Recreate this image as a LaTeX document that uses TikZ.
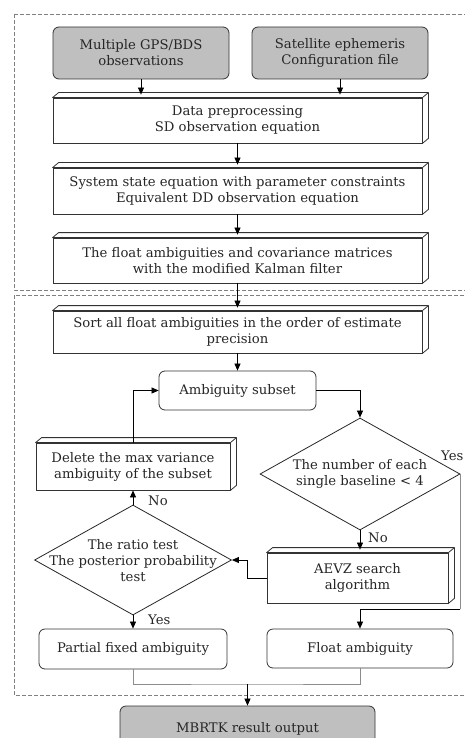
\documentclass[tikz,border=0pt]{standalone}
\usepackage{fontspec}
\setmainfont{DejaVu Serif}
\usetikzlibrary{arrows.meta,shapes.geometric,calc}
\newcommand\depthfaces[1]{%
  \draw[draw=black!80, line width=0.8pt, fill=white, line join=round]
    (#1.north west) -- ++(6,-5) -- ($(#1.north east)+(6,-5)$) -- ($(#1.south east)+(6,-5)$) -- (#1.south east) -- (#1.north east) -- cycle;
  \draw[draw=black!80, line width=0.8pt] (#1.north east) -- ++(6,-5);}
\begin{document}
\begin{tikzpicture}[x=1pt,y=-1pt,
  font=\fontsize{13.2}{16}\selectfont,
  every node/.style={align=center, text=black!85},
  box/.style={draw=black!80, line width=0.8pt, fill=white, inner sep=0pt},
  rbox/.style={box, rounded corners=6pt},
  gbox/.style={rbox, fill=black!25},
  dia/.style={diamond, draw=black!85, line width=0.8pt, inner sep=0pt},
  arr/.style={draw=black, line width=0.7pt, -{Triangle[length=7pt,width=6pt]}},
  gline/.style={draw=black!45, line width=0.7pt},
  frame/.style={draw=black!50, line width=0.7pt, dash pattern=on 4pt off 2pt},
  lbl/.style={inner sep=0pt}
]
\useasboundingbox (0,0) rectangle (464,738);
% frames
\draw[frame] (14,14) rectangle (490,290);
\draw[frame] (14,295) rectangle (490,695);
% nodes
\node[gbox, minimum width=176pt, minimum height=52pt] (obs) at (141,53) {Multiple GPS/BDS\\observations};
\node[gbox, minimum width=176pt, minimum height=52pt] (eph) at (340,53) {Satellite ephemeris\\Configuration file};
\node[box, minimum width=369pt, minimum height=45pt] (pre) at (237.5,120.5) {Data preprocessing\\SD observation equation};
\node[box, minimum width=369pt, minimum height=46pt] (sys) at (237.5,191) {System state equation with parameter constraints\\Equivalent DD observation equation};
\node[box, minimum width=369pt, minimum height=45pt] (kal) at (237.5,260.5) {The float ambiguities and covariance matrices\\with the modified Kalman filter};
\node[box, minimum width=369pt, minimum height=42pt] (sort) at (237.5,332) {Sort all float ambiguities in the order of estimate\\precision};
\node[rbox, minimum width=157pt, minimum height=39pt] (sub) at (237.5,390.5) {Ambiguity subset};
\node[dia, minimum width=200pt, minimum height=112pt] (d1) at (360,474) {};
\node[lbl] (d1t) at (360,474) {The number of each\\single baseline < 4};
\node[box, minimum width=194pt, minimum height=47pt] (del) at (133,466.5) {Delete the max variance\\ambiguity of the subset};
\node[dia, minimum width=197pt, minimum height=110pt] (d2) at (133,560) {};
\node[lbl] (d2t) at (133,561) {The ratio test\\The posterior probability\\test};
\node[box, minimum width=181pt, minimum height=50pt] (aevz) at (357.5,578) {AEVZ search\\algorithm};
\node[rbox, minimum width=188pt, minimum height=40pt] (part) at (133,649) {Partial fixed ambiguity};
\node[rbox, minimum width=186pt, minimum height=39pt] (flt) at (360,648.5) {Float ambiguity};
\node[gbox, minimum width=255pt, minimum height=46pt] (out) at (247.5,729) {MBRTK result output};
% 3d faces
\depthfaces{pre}
\depthfaces{sys}
\depthfaces{kal}
\depthfaces{sort}
\depthfaces{del}
\depthfaces{aevz}
% labels
\node[lbl, anchor=west] (y1) at (441,456) {Yes};
\node[lbl, anchor=west] (n1) at (368,538) {No};
\node[lbl, anchor=west] (n2) at (148,501) {No};
\node[lbl, anchor=west] (y2) at (148,620) {Yes};
% connectors
\draw[arr] (obs.south) -- ($(obs.south |- pre.north)+(0,-3)$);
\draw[arr] (eph.south) -- ($(eph.south |- pre.north)+(0,-3)$);
\draw[arr] (pre.south) -- ($(sys.north)+(0,-3)$);
\draw[arr] (sys.south) -- ($(kal.north)+(0,-3)$);
\draw[arr] (kal.south) -- ($(sort.north)+(0,-3)$);
\draw[arr] (sort.south) -- (sub.north);
\draw[arr] (sub.east) -| (d1.north);
\draw[arr] (d1.south) -- ($(d1.south |- aevz.north)+(0,-3)$);
\draw[arr] (aevz.west) -- ++(-19,0) |- (d2.east);
\draw[arr] (d2.north) -- (del.south);
\draw[arr] (del.north) |- (sub.west);
\draw[arr] (d2.south) -- (part.north);
\coordinate (ybend) at (360,609);
\draw[gline] (d1.east) -- (d1.east |- ybend);
\draw[arr] (d1.east |- ybend) -- (ybend) -- (flt.north);
\coordinate (join) at (247.5,684);
\draw[gline] (part.south) |- (join) -| (flt.south);
\draw[arr] (join) -- (out.north);
\end{tikzpicture}
\end{document}
